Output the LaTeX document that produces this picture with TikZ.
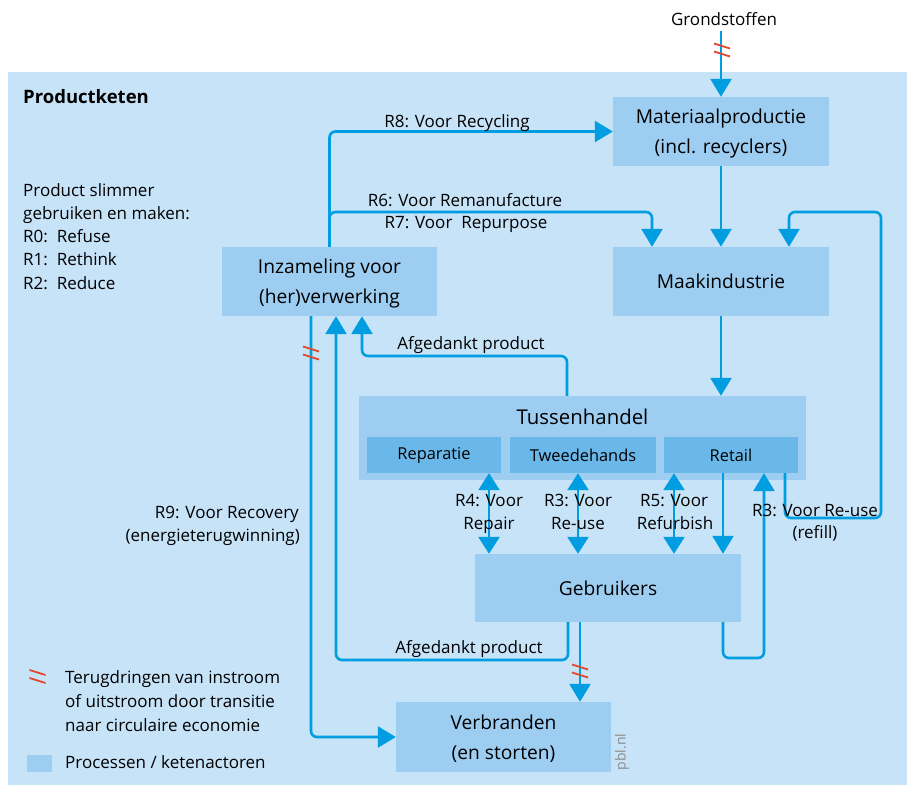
\documentclass[tikz,border=0pt]{standalone}
\usepackage{fontspec}
\setmainfont{Open Sans}
\usetikzlibrary{arrows.meta,calc}
\definecolor{bgblue}{RGB}{199,227,248}
\definecolor{boxblue}{RGB}{157,206,242}
\definecolor{innerblue}{RGB}{106,184,234}
\definecolor{flow}{RGB}{0,157,224}
\definecolor{cut}{RGB}{226,72,44}
\definecolor{tagrey}{RGB}{140,140,140}
\begin{document}
\begin{tikzpicture}[x=1pt,y=-1pt,
  box/.style={fill=boxblue, inner sep=0pt, align=center, font=\fontsize{19.2}{29.5}\selectfont},
  twoline/.style={text height=48pt},
  subbox/.style={fill=innerblue, inner sep=0pt, font=\fontsize{16.4}{20}\selectfont},
  lbl/.style={font=\fontsize{17}{23}\selectfont, inner sep=0pt, anchor=base},
  flowline/.style={draw=flow, line width=2.6pt, rounded corners=6pt},
  arr/.style={flowline, -{Triangle[width=21pt,length=18pt]}},
  darr/.style={flowline, {Triangle[width=21pt,length=17pt]}-{Triangle[width=21pt,length=17pt]}},
  hatch/.pic={\draw[cut, line width=1.8pt] (-8,-6.5) -- (8,-1.5) (-8,1.5) -- (8,6.5);}
]
\useasboundingbox (0,0) rectangle (908,787);
\fill[bgblue] (8,72) rectangle (907,785);

% process boxes
\node[box, twoline, minimum width=216pt, minimum height=69pt] (mat) at (721,131.5) {Materiaalproductie\\(incl. recyclers)};
\node[box, minimum width=216pt, minimum height=69pt] (maak) at (721,281.5) {Maakindustrie};
\node[box, twoline, minimum width=215pt, minimum height=69pt] (inz) at (329.5,281.5) {Inzameling voor\\(her)verwerking};
\node[box, minimum width=447pt, minimum height=84pt] (tuss) at (582.5,438) {};
\node[font=\fontsize{20.4}{24}\selectfont, inner sep=0pt, anchor=base] (tusst) at (582.5,424) {Tussenhandel};
\node[subbox, minimum width=134pt, minimum height=36pt] (rep) at (434,455) {Reparatie};
\node[subbox, minimum width=146pt, minimum height=36pt] (tw) at (583,455) {Tweedehands};
\node[subbox, minimum width=134pt, minimum height=36pt] (ret) at (731,455) {Retail};
\node[box, minimum width=266pt, minimum height=68pt] (geb) at (608,588) {Gebruikers};
\node[box, twoline, minimum width=215pt, minimum height=70pt] (verb) at (503.5,737) {Verbranden\\(en storten)};

% texts
\node[lbl] (grond) at (724,25) {Grondstoffen};
\node[lbl, anchor=base west, font=\bfseries\fontsize{18.5}{22}\selectfont] (title) at (23,103) {Productketen};
\node[lbl, anchor=north west, align=left, font=\fontsize{17}{23.25}\selectfont] (slim) at (23,183)
  {Product slimmer\\gebruiken en maken:\\R0:\ \ Refuse\\R1:\ \ Rethink\\R2:\ \ Reduce};

% flows
\draw[arr] ([yshift=-6pt]grond.south -| mat.north) -- (mat.north);
\draw[arr] (inz.north) |- (mat.west);
\draw[arr] (inz.north |- 0,232) |- ([xshift=-69pt]maak.north |- 0,212) -- ([xshift=-69pt]maak.north);
\draw[arr] (mat.south) -- (maak.north);
\draw[arr] (maak.south) -- (maak.south |- tuss.north);
\draw[arr] ([xshift=54pt]ret.south) |- (881,518) |- ([xshift=68pt]maak.north |- 0,212) -- ([xshift=68pt]maak.north);
\draw[arr] ([xshift=-8pt]ret.south) -- ([xshift=-8pt]ret.south |- geb.north);
\draw[arr] ([xshift=115pt]geb.south) |- ([xshift=33pt]ret.south |- 0,658) -- ([xshift=33pt]ret.south);
\draw[darr] ([xshift=55pt]rep.south) -- ([xshift=55pt]rep.south |- geb.north);
\draw[darr] ([xshift=-5pt]tw.south) -- ([xshift=-5pt]tw.south |- geb.north);
\draw[darr] ([xshift=-57pt]ret.south) -- ([xshift=-57pt]ret.south |- geb.north);
\draw[arr] ([xshift=-15.5pt]tuss.north) |- ([xshift=32.5pt]inz.south |- 0,356) -- ([xshift=32.5pt]inz.south);
\draw[arr] ([xshift=-40pt]geb.south) |- ([xshift=6.5pt]inz.south |- 0,660) -- ([xshift=6.5pt]inz.south);
\draw[arr] ([xshift=-28pt]geb.south) -- ([xshift=-28pt]geb.south |- verb.north);
\draw[arr] ([xshift=-18.5pt]inz.south) |- (verb.west);

% reduction marks
\pic at (722,50) {hatch};
\pic at (311,353) {hatch};
\pic at (580,671) {hatch};

% flow labels
\node[lbl] (r8) at (457,127) {R8: Voor Recycling};
\node[lbl] (r6) at (465,206) {R6: Voor Remanufacture};
\node[lbl] (r7) at (466,228) {R7: Voor\ \ Repurpose};
\node[lbl] (afg1) at (471,349) {Afgedankt product};
\node[lbl] (afg2) at (469,653) {Afgedankt product};
\node[lbl, anchor=base east] (r9a) at (299,518) {R9: Voor Recovery};
\node[lbl, anchor=base east] (r9b) at (300,541) {(energieterugwinning)};
\node[lbl] (r4a) at (489,506) {R4: Voor};
\node[lbl] (r4b) at (489,529) {Repair};
\node[lbl] (r3a) at (578,506) {R3: Voor};
\node[lbl] (r3b) at (578,529) {Re-use};
\node[lbl] (r5a) at (674,506) {R5: Voor};
\node[lbl] (r5b) at (675,529) {Refurbish};
\node[lbl] (r3c) at (815,516) {R3: Voor Re-use};
\node[lbl] (r3d) at (815,538) {(refill)};

% legend
\pic at (37.5,676.5) {hatch};
\node[lbl, anchor=base west] (leg1) at (65,683) {Terugdringen van instroom};
\node[lbl, anchor=base west] (leg2) at (65,707) {of uitstroom door transitie};
\node[lbl, anchor=base west] (leg3) at (65,731) {naar circulaire economie};
\fill[boxblue] (27,755) rectangle (52,772);
\node[lbl, anchor=base west] (leg4) at (65,768) {Processen / ketenactoren};

\node[font=\fontsize{14}{16}\selectfont, text=tagrey, rotate=90, inner sep=0pt] (tag) at (622,752) {pbl.nl};
\end{tikzpicture}
\end{document}
